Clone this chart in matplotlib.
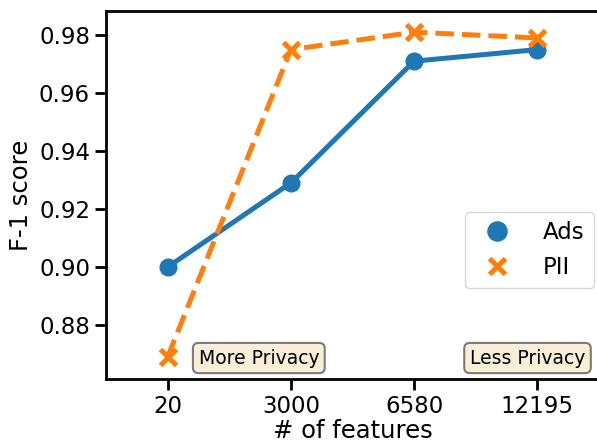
import numpy as np
import matplotlib
matplotlib.use("Agg")
from matplotlib import pyplot as plt

# F-1 score vs number of features
features = ["20", "3000", "6580", "12195"]
ads_f1 = [0.900, 0.929, 0.971, 0.975]
pii_f1 = [0.869, 0.975, 0.981, 0.979]

fig = plt.figure(figsize=(5.97, 4.44), dpi=100)
ax = fig.add_axes([106 / 597, 1 - 379 / 444, 493 / 597, 368 / 444])

x = np.arange(len(features))
ax.plot(x, ads_f1, color="#1f77b4", lw=3.6, marker="o", ms=12, label="_nolegend_")
ax.plot(x, pii_f1, color="#ff7f0e", lw=3.6, ls="--", marker="x", ms=11, mew=3.6,
        label="_nolegend_")
# legend shows markers only
ax.scatter([], [], color="#1f77b4", marker="o", s=190, label="Ads")
ax.scatter([], [], color="#ff7f0e", marker="x", s=130, linewidths=3.6, label="PII")

ax.set_xlim(-0.5, 3.5)
ax.set_ylim(0.8614, 0.9883)
ax.set_xticks(x)
ax.set_xticklabels(features)
ax.set_yticks([0.88, 0.90, 0.92, 0.94, 0.96, 0.98])
ax.set_yticklabels(["%.2f" % v for v in [0.88, 0.90, 0.92, 0.94, 0.96, 0.98]])
ax.tick_params(labelsize=16.5, width=2, length=8)
for side in ["left", "bottom", "top"]:
    ax.spines[side].set_linewidth(2)
ax.spines["right"].set_visible(False)

ax.set_xlabel("# of features", fontsize=17.5, labelpad=1)
ax.set_ylabel("F-1 score", fontsize=17.5)

ax.legend(loc="center left", bbox_to_anchor=(0.705, 0.35), fontsize=16.5,
          handletextpad=1.0, borderpad=0.4, scatteryoffsets=[0.5])

box = dict(boxstyle="round,pad=0.3", facecolor="wheat", alpha=0.5, edgecolor="black", lw=1.5)
ax.text(0.31, 0.057, "More Privacy", transform=ax.transAxes, fontsize=13.5,
        ha="center", va="center", bbox=box)
ax.text(0.855, 0.057, "Less Privacy", transform=ax.transAxes, fontsize=13.5,
        ha="center", va="center", bbox=box)

fig.savefig("out.png", dpi=100)
